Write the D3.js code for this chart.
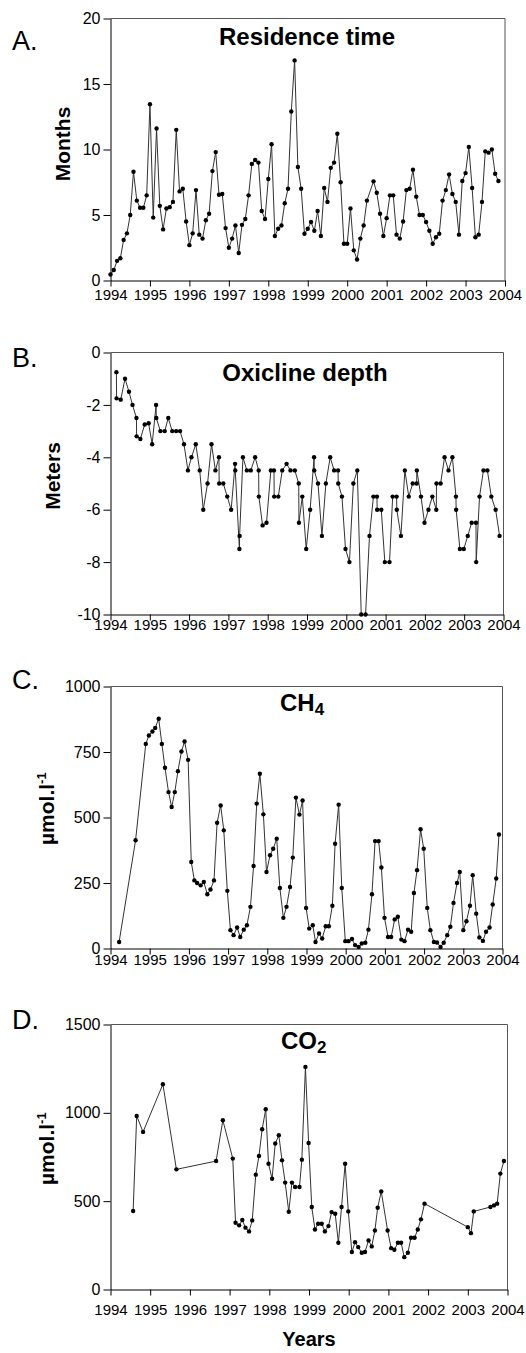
<!DOCTYPE html>
<html><head><meta charset="utf-8">
<script src="https://cdn.jsdelivr.net/npm/d3@7"></script>
<style>
body{margin:0;background:#fff}
svg{display:block}
text{font-family:"Liberation Sans",Arial,Helvetica,sans-serif;fill:#000}
</style>
</head><body>
<svg id="chart" width="526" height="1353"></svg>
<script>
// ---------- data ----------
const yearTicks = [1994,1995,1996,1997,1998,1999,2000,2001,2002,2003,2004];

// A. Residence time (months)
const residenceYears = [
 1994.000,1994.083,1994.167,1994.250,1994.333,1994.417,1994.500,1994.583,1994.667,1994.750,1994.833,1994.917,
 1995.000,1995.083,1995.167,1995.250,1995.333,1995.417,1995.500,1995.583,1995.667,1995.750,1995.833,1995.917,
 1996.000,1996.083,1996.167,1996.250,1996.333,1996.417,1996.500,1996.583,1996.667,1996.750,1996.833,1996.917,
 1997.000,1997.083,1997.167,1997.250,1997.333,1997.417,1997.500,1997.583,1997.667,1997.750,1997.833,1997.917,
 1998.000,1998.083,1998.167,1998.250,1998.333,1998.417,1998.500,1998.583,1998.667,1998.750,1998.833,1998.917,
 1999.000,1999.083,1999.167,1999.250,1999.333,1999.417,1999.500,1999.583,1999.667,1999.750,1999.833,1999.917,
 2000.000,2000.083,2000.167,2000.250,2000.333,2000.417,2000.500,2000.667,2000.750,2000.833,2000.917,
 2001.000,2001.083,2001.167,2001.250,2001.333,2001.417,2001.500,2001.583,2001.667,2001.750,2001.833,2001.917,
 2002.000,2002.083,2002.167,2002.250,2002.333,2002.417,2002.500,2002.583,2002.667,2002.750,2002.833,2002.917,
 2003.000,2003.083,2003.167,2003.250,2003.333,2003.417,2003.500,2003.583,2003.667,2003.750,2003.833
];
const residenceMonths = [
 0.46,0.8,1.5,1.7,3.1,3.6,5.0,8.3,6.1,5.55,5.55,6.5,
 13.45,4.8,11.6,5.7,3.9,5.5,5.6,6.0,11.5,6.8,7.0,4.5,
 2.7,3.6,6.9,3.5,3.2,4.6,5.1,8.35,9.8,6.55,6.6,4.0,
 2.5,3.2,4.2,2.1,4.25,4.7,6.5,8.9,9.2,9.0,5.3,4.7,
 7.75,10.4,3.4,3.95,4.2,5.9,7.0,12.9,16.8,8.66,7.0,3.57,
 3.95,4.46,3.8,5.3,3.4,7.06,6.0,8.6,9.0,11.2,7.5,2.8,
 2.8,5.5,2.3,1.6,3.2,4.2,6.1,7.57,6.7,5.1,3.4,
 4.76,6.5,6.5,3.5,3.2,4.5,6.9,7.0,8.46,6.4,5.0,5.0,
 4.46,3.8,2.8,3.3,3.57,6.1,6.9,8.1,6.6,6.0,3.5,7.6,
 8.2,10.2,7.06,3.3,3.5,6.0,9.86,9.76,10.0,8.15,7.6
];
const residenceTicks = [0,5,10,15,20];

// B. Oxicline depth (meters)
const oxiclineYears = [
 1994.15,1994.155,1994.26,1994.37,1994.47,1994.56,1994.66,1994.665,1994.76,1994.87,1994.97,
 1995.06,1995.16,1995.165,1995.27,1995.38,1995.47,1995.57,1995.67,1995.77,1995.87,1995.97,
 1996.06,1996.17,1996.27,1996.36,1996.47,1996.57,1996.67,1996.76,1996.765,1996.87,1996.97,
 1997.07,1997.17,1997.175,1997.28,1997.285,1997.37,1997.47,1997.57,1997.68,1997.77,1997.775,1997.87,1997.97,
 1998.08,1998.16,1998.165,1998.27,1998.37,1998.48,1998.58,1998.69,1998.79,1998.795,1998.88,1998.98,
 1999.08,1999.18,1999.185,1999.28,1999.38,1999.48,1999.59,1999.69,1999.79,1999.795,1999.89,1999.98,
 2000.08,2000.18,2000.28,2000.38,2000.49,2000.59,2000.69,2000.78,2000.785,2000.89,2000.98,
 2001.10,2001.18,2001.28,2001.285,2001.39,2001.49,2001.59,2001.69,2001.79,2001.795,2001.90,2001.99,
 2002.09,2002.19,2002.29,2002.295,2002.40,2002.50,2002.60,2002.70,2002.79,2002.795,2002.89,2002.99,
 2003.09,2003.19,2003.30,2003.305,2003.39,2003.49,2003.59,2003.69,2003.80,2003.90
];
const oxiclineDepth = [
 -0.75,-1.75,-1.8,-1,-1.5,-2,-2.5,-3.2,-3.3,-2.75,-2.7,
 -3.5,-2,-2.5,-3,-3,-2.5,-3,-3,-3,-3.5,-4.5,
 -4,-3.5,-4.5,-6,-5,-3.5,-4.5,-4,-5,-5,-5.5,
 -6,-4.25,-4.5,-7.5,-7,-4,-4.5,-4.5,-4,-4.5,-5.5,-6.6,-6.5,
 -4.5,-4.5,-5.5,-5.5,-4.5,-4.25,-4.5,-4.5,-5,-6.5,-5.5,-7.5,
 -6,-4,-4.5,-5,-7,-5,-4,-4.5,-4.5,-5,-5.5,-7.5,
 -8,-5,-4.5,-10,-10,-7,-5.5,-5.5,-6,-6,-8,
 -8,-5.5,-5.5,-6,-7,-4.5,-5.5,-5,-5,-4.5,-5.5,-6.5,
 -6,-5.5,-6,-5,-5,-4,-4.5,-4,-5.5,-6,-7.5,-7.5,
 -7,-6.5,-6.5,-8,-5.5,-4.5,-4.5,-5.5,-6,-7
];
const oxiclineTicks = [0,-2,-4,-6,-8,-10];

// C. CH4 (umol/l)
const ch4Years = [
 1994.22,1994.64,1994.90,1994.98,
 1995.07,1995.14,1995.23,1995.31,1995.39,1995.48,1995.56,1995.64,1995.72,1995.81,1995.89,1995.98,
 1996.06,1996.14,1996.21,1996.30,1996.38,1996.47,1996.55,1996.64,1996.72,1996.81,1996.89,1996.98,
 1997.06,1997.14,1997.23,1997.31,1997.40,1997.48,1997.57,1997.65,1997.73,1997.81,1997.90,1997.98,
 1998.07,1998.15,1998.24,1998.32,1998.41,1998.49,1998.58,1998.65,1998.73,1998.82,1998.90,1998.99,
 1999.07,1999.16,1999.23,1999.32,1999.40,1999.49,1999.57,1999.66,1999.73,1999.82,1999.90,1999.99,
 2000.07,2000.16,2000.24,2000.33,2000.41,2000.50,2000.58,2000.67,2000.75,2000.84,2000.91,2000.99,
 2001.08,2001.16,2001.25,2001.33,2001.42,2001.50,2001.59,2001.67,2001.74,2001.82,2001.91,2001.99,
 2002.08,2002.16,2002.25,2002.33,2002.42,2002.50,2002.59,2002.67,2002.75,2002.84,2002.91,
 2003.00,2003.08,2003.17,2003.24,2003.33,2003.41,2003.50,2003.58,2003.67,2003.75,2003.84,2003.91
];
const ch4Values = [
 25,413,781,813,
 828,842,877,781,690,597,540,597,677,752,790,720,
 330,260,250,241,254,207,225,260,480,546,451,220,
 70,51,80,44,72,89,159,315,553,667,512,292,
 356,381,419,231,117,159,235,347,576,511,565,155,
 76,89,25,57,38,85,85,163,400,549,231,28,
 28,36,13,6,19,22,72,207,410,410,309,117,
 44,44,111,121,34,28,72,64,212,299,455,381,
 155,70,25,23,6,22,51,83,174,250,292,
 70,104,163,280,133,42,29,64,80,168,267,435
];
const ch4Ticks = [0,250,500,750,1000];

// D. CO2 (umol/l)
const co2Years = [
 1994.57,1994.66,1994.82,1995.32,1995.66,1996.66,1996.83,
 1997.08,1997.15,1997.24,1997.32,1997.40,1997.49,1997.57,1997.66,1997.74,1997.82,1997.91,1997.98,
 1998.07,1998.15,1998.24,1998.32,1998.40,1998.49,1998.57,1998.65,1998.76,1998.82,1998.91,1998.99,
 1999.07,1999.15,1999.23,1999.32,1999.40,1999.49,1999.57,1999.66,1999.74,1999.82,1999.91,1999.99,
 2000.08,2000.16,2000.24,2000.33,2000.41,2000.50,2000.58,2000.66,2000.73,2000.82,2000.98,
 2001.07,2001.15,2001.24,2001.32,2001.40,2001.49,2001.57,2001.66,2001.74,2001.82,2001.91,
 2003.00,2003.08,2003.15,2003.57,2003.66,2003.74,2003.82,2003.91
];
const co2Values = [
 444,982,892,1162,680,727,958,
 741,378,363,393,350,329,391,650,756,907,1020,712,
 627,826,873,731,605,440,605,580,580,735,1260,829,
 467,340,372,372,329,359,438,429,265,467,712,442,
 212,268,240,208,212,278,244,334,463,555,334,
 234,225,265,265,183,208,293,293,340,397,486,
 353,319,442,467,476,486,656,727
];
const co2Ticks = [0,500,1000,1500];

// ---------- layout ----------
const svg = d3.select("#chart");

const panels = [
 {letter:"A.", letterY:50, title:"Residence time", titleX:307, titleY:45,
  ylabel:"Months", ylabX:70, ylabY:144,
  left:110.5, right:505, top:18.5, bottom:280.5, domain:[0,20], ticks:residenceTicks,
  xLab:19, xs:residenceYears, ys:residenceMonths},
 {letter:"B.", letterY:367, title:"Oxicline depth", titleX:305, titleY:381,
  ylabel:"Meters", ylabX:60, ylabY:476,
  left:110.5, right:503.5, top:352.5, bottom:614.5, domain:[-10,0], ticks:oxiclineTicks,
  xLab:15, xs:oxiclineYears, ys:oxiclineDepth},
 {letter:"C.", letterY:689, titleMain:"CH", titleSub:"4", titleX:280, titleY:711,
  unitLabel:true, ylabX:54, ylabBottom:845,
  left:110.5, right:502.5, top:686.5, bottom:948.5, domain:[0,1000], ticks:ch4Ticks,
  xLab:16, xs:ch4Years, ys:ch4Values},
 {letter:"D.", letterY:1029, titleMain:"CO", titleSub:"2", titleX:281, titleY:1049,
  unitLabel:true, ylabX:54, ylabBottom:1185,
  left:110.5, right:507.5, top:1024.5, bottom:1289.5, domain:[0,1500], ticks:co2Ticks,
  xLab:25, xs:co2Years, ys:co2Values}
];

panels.forEach(p => {
  const g = svg.append("g");
  const x = d3.scaleLinear().domain([1994, 2004]).range([p.left, p.right]);
  const y = d3.scaleLinear().domain(p.domain).range([p.bottom, p.top]);

  // top + right frame
  g.append("path")
    .attr("d", `M${p.left},${p.top}H${p.right}V${p.bottom}`)
    .attr("fill", "none").attr("stroke", "#555").attr("stroke-width", 1);

  // y axis
  const ya = g.append("g").attr("transform", `translate(${p.left},0)`)
    .call(d3.axisLeft(y).tickValues(p.ticks).tickSize(7).tickSizeOuter(0).tickPadding(3)
      .tickFormat(d => String(d)));
  ya.select(".domain").attr("stroke", "#000");
  ya.selectAll(".tick line").attr("stroke", "#000");
  ya.selectAll(".tick text").attr("font-size", "16px").attr("font-family", null).attr("fill", "#000");

  // x axis
  const xa = g.append("g").attr("transform", `translate(0,${p.bottom})`)
    .call(d3.axisBottom(x).tickValues(yearTicks).tickSize(6).tickSizeOuter(0)
      .tickFormat(d3.format("d")));
  xa.select(".domain").attr("stroke", "#000");
  xa.selectAll(".tick line").attr("stroke", "#000");
  xa.selectAll(".tick text").attr("font-size", "15px").attr("font-family", null).attr("fill", "#000")
    .attr("y", p.xLab).attr("dy", null);

  // data line + points
  const pts = p.xs.map((v, i) => [v, p.ys[i]]);
  const line = d3.line().x(d => x(d[0])).y(d => y(d[1]));
  g.append("path").datum(pts).attr("d", line)
    .attr("fill", "none").attr("stroke", "#333").attr("stroke-width", 1);
  g.selectAll("circle.pt").data(pts).join("circle").attr("class", "pt")
    .attr("cx", d => x(d[0])).attr("cy", d => y(d[1])).attr("r", 2.2).attr("fill", "#000");

  // panel letter
  svg.append("text").attr("x", 12).attr("y", p.letterY).attr("font-size", "27px").text(p.letter);

  // title
  if (p.title) {
    svg.append("text").attr("x", p.titleX).attr("y", p.titleY).attr("text-anchor", "middle")
      .attr("font-size", "24px").attr("font-weight", "bold").text(p.title);
  } else {
    const t = svg.append("text").attr("x", p.titleX).attr("y", p.titleY)
      .attr("font-size", "24px").attr("font-weight", "bold");
    t.append("tspan").text(p.titleMain);
    t.append("tspan").attr("font-size", "17px").attr("dy", 4).text(p.titleSub);
  }

  // y label
  if (p.unitLabel) {
    const t = svg.append("text")
      .attr("transform", `translate(${p.ylabX},${p.ylabBottom}) rotate(-90)`)
      .attr("font-size", "21px").attr("font-weight", "bold");
    t.append("tspan").text("\u00B5mol.l");
    t.append("tspan").attr("font-size", "13px").attr("dy", -8).text("-1");
  } else {
    svg.append("text")
      .attr("transform", `translate(${p.ylabX},${p.ylabY}) rotate(-90)`)
      .attr("text-anchor", "middle").attr("font-size", "21px").attr("font-weight", "bold")
      .text(p.ylabel);
  }
});

// shared x label
svg.append("text").attr("x", 309).attr("y", 1346).attr("text-anchor", "middle")
  .attr("font-size", "20px").attr("font-weight", "bold").text("Years");
</script>
</body></html>
